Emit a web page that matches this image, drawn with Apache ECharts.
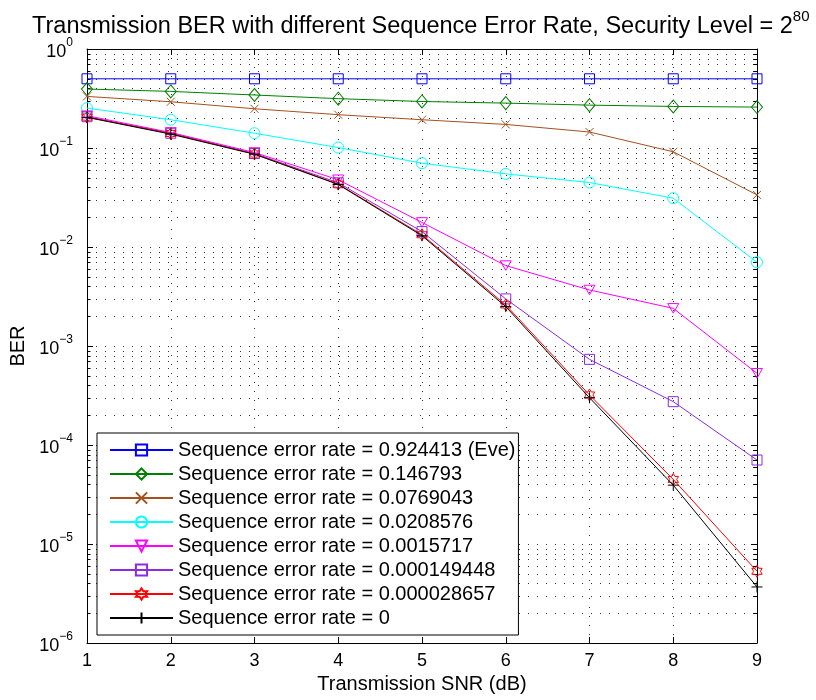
<!DOCTYPE html>
<html>
<head>
<meta charset="utf-8">
<script src="https://cdn.jsdelivr.net/npm/echarts@6/dist/echarts.min.js"></script>
<style>html,body{margin:0;padding:0;background:#fff;}#c{width:816px;height:700px;}</style>
</head>
<body>
<div id="c"></div>
<script>
var snr = [1, 2, 3, 4, 5, 6, 7, 8, 9];
var xTicks = [1, 2, 3, 4, 5, 6, 7, 8, 9];
var yTickExponents = [0, -1, -2, -3, -4, -5, -6];
var seriesNames = [
  'Sequence error rate = 0.924413 (Eve)',
  'Sequence error rate = 0.146793',
  'Sequence error rate = 0.0769043',
  'Sequence error rate = 0.0208576',
  'Sequence error rate = 0.0015717',
  'Sequence error rate = 0.000149448',
  'Sequence error rate = 0.000028657',
  'Sequence error rate = 0'
];
var berEve    = [0.5, 0.5, 0.5, 0.5, 0.5, 0.5, 0.5, 0.5, 0.5];
var ber146793 = [0.394, 0.373, 0.343, 0.315, 0.295, 0.284, 0.271, 0.263, 0.259];
var ber076904 = [0.332, 0.293, 0.249, 0.217, 0.193, 0.173, 0.145, 0.0916, 0.0336];
var ber020858 = [0.253, 0.193, 0.141, 0.101, 0.0703, 0.0548, 0.0448, 0.0311, 0.00702];
var ber001572 = [0.212, 0.1435, 0.090, 0.0478, 0.0177, 0.00649, 0.00368, 0.0024, 0.00053];
var ber000149 = [0.207, 0.141, 0.088, 0.0445, 0.0143, 0.00299, 0.000733, 0.000274, 0.0000705];
var ber000029 = [0.205, 0.140, 0.087, 0.0432, 0.0133, 0.0026, 0.00032, 0.0000449, 0.0000053];
var berZero   = [0.204, 0.138, 0.0865, 0.0428, 0.0130, 0.0025, 0.0003, 0.0000393, 0.00000368];
var minorMantissas = [2, 3, 4, 5, 6, 7, 8, 9];

var allData = [berEve, ber146793, ber076904, ber020858, ber001572, ber000149, ber000029, berZero];
var colors = ['#0000ff', '#008000', '#a5501e', '#00ffff', '#ff00ff', '#8b2be2', '#ff0000', '#000000'];
var symbols = [
  'rect',
  'diamond',
  'path://M0,0 L10,10 M0,10 L10,0',
  'circle',
  'path://M0,0 L12,0 L6,10.4 Z',
  'rect',
  'path://M0,-10 L2.887,-5 L8.66,-5 L5.774,0 L8.66,5 L2.887,5 L0,10 L-2.887,5 L-8.66,5 L-5.774,0 L-8.66,-5 L-2.887,-5 Z',
  'path://M5,0 L5,10 M0,5 L10,5'
];
var symSizes = [10, [11, 13], 8, 11, 11, 10, 12, 11];

var minorValues = [];
yTickExponents.forEach(function (e) {
  if (e === 0) return;
  minorMantissas.forEach(function (m) { minorValues.push([1, m * Math.pow(10, e)]); });
});

var FONT = 'Liberation Sans';
var series = allData.map(function (d, i) {
  return {
    name: seriesNames[i],
    type: 'line',
    data: snr.map(function (x, j) { return [x, d[j]]; }),
    symbol: symbols[i],
    symbolSize: symSizes[i],
    symbolKeepAspect: true,
    showAllSymbol: true,
    color: colors[i],
    lineStyle: { color: colors[i], width: 1 },
    itemStyle: { color: 'rgba(255,255,255,0)', borderColor: colors[i], borderWidth: 1 },
    emphasis: { disabled: true },
    z: 3 + i
  };
});

series.unshift({
  type: 'custom',
  name: 'minor',
  data: minorValues,
  encode: { x: 0, y: 1 },
  silent: true,
  z: 1,
  renderItem: function (params, api) {
    var v = api.value(1);
    var p0 = api.coord([xTicks[0], v]);
    var p1 = api.coord([xTicks[xTicks.length - 1], v]);
    var y = Math.round(p0[1]) + 0.5;
    return {
      type: 'group',
      children: [
        { type: 'line', shape: { x1: p0[0], y1: y, x2: p1[0], y2: y }, style: { stroke: '#333', lineWidth: 1, lineDash: [1, 8] } },
        { type: 'line', shape: { x1: p0[0], y1: y, x2: p0[0] + 3.5, y2: y }, style: { stroke: '#000', lineWidth: 1 } },
        { type: 'line', shape: { x1: p1[0], y1: y, x2: p1[0] - 3.5, y2: y }, style: { stroke: '#000', lineWidth: 1 } }
      ]
    };
  }
});

function yLabel(v) {
  var e = Math.round(Math.log10(v));
  var es = e < 0 ? '\u2212' + Math.abs(e) : String(e);
  return '{b|10}{e|' + es + '}';
}

var chart = echarts.init(document.getElementById('c'), null, { renderer: 'canvas' });
chart.setOption({
  animation: false,
  backgroundColor: '#fff',
  textStyle: { fontFamily: FONT, color: '#000' },
  title: {
    text: '{t|Transmission BER with different Sequence Error Rate, Security Level = 2}{s|80}',
    left: 32,
    top: 9,
    padding: 0,
    textStyle: {
      fontWeight: 'normal',
      rich: {
        t: { fontFamily: FONT, fontSize: 23.5, fontWeight: 'normal', color: '#000', lineHeight: 30, verticalAlign: 'bottom' },
        s: { fontFamily: FONT, fontSize: 15, fontWeight: 'normal', color: '#000', lineHeight: 30, verticalAlign: 'top' }
      }
    }
  },
  grid: { left: 87, right: 59, top: 49, bottom: 57, containLabel: false },
  legend: {
    orient: 'vertical',
    left: 97,
    top: 433,
    padding: [7, 3, 7, 12],
    itemWidth: 63,
    itemHeight: 14,
    itemGap: 4,
    backgroundColor: '#fff',
    borderColor: '#000',
    borderWidth: 1,
    borderRadius: 0,
    data: seriesNames,
    textStyle: { fontFamily: FONT, fontSize: 20, color: '#000', lineHeight: 20 },
    z: 20
  },
  xAxis: [{
    type: 'value', min: 1, max: 9, interval: 1, position: 'bottom',
    name: 'Transmission SNR (dB)', nameLocation: 'middle', nameGap: 31,
    nameTextStyle: { fontFamily: FONT, fontSize: 20, color: '#000' },
    axisLine: { show: true, lineStyle: { color: '#000', width: 1 } },
    axisTick: { show: true, inside: true, length: 6, lineStyle: { color: '#000' } },
    axisLabel: { fontFamily: FONT, fontSize: 18, color: '#000', margin: 9 },
    splitLine: { show: true, lineStyle: { color: '#333', width: 1, type: [1, 8] } }
  }, {
    type: 'value', min: 1, max: 9, interval: 1, position: 'top',
    axisLine: { show: true, lineStyle: { color: '#000', width: 1 } },
    axisTick: { show: true, inside: true, length: 6, lineStyle: { color: '#000' } },
    axisLabel: { show: false },
    splitLine: { show: false }
  }],
  yAxis: [{
    type: 'log', logBase: 10, min: 1e-6, max: 1, splitNumber: 6, position: 'left',
    name: 'BER', nameLocation: 'middle', nameGap: 50,
    nameTextStyle: { fontFamily: FONT, fontSize: 20, color: '#000' },
    axisLine: { show: true, lineStyle: { color: '#000', width: 1 } },
    axisTick: { show: true, inside: true, length: 6, lineStyle: { color: '#000' } },
    axisLabel: {
      margin: 14, formatter: yLabel,
      rich: {
        b: { fontFamily: FONT, fontSize: 18, color: '#000', lineHeight: 24, verticalAlign: 'bottom' },
        e: { fontFamily: FONT, fontSize: 12, color: '#000', lineHeight: 24, verticalAlign: 'top' }
      }
    },
    splitLine: { show: true, lineStyle: { color: '#333', width: 1, type: [1, 8] } },
    minorTick: { show: false }
  }, {
    type: 'log', logBase: 10, min: 1e-6, max: 1, splitNumber: 6, position: 'right',
    axisLine: { show: true, lineStyle: { color: '#000', width: 1 } },
    axisTick: { show: true, inside: true, length: 6, lineStyle: { color: '#000' } },
    axisLabel: { show: false },
    splitLine: { show: false }
  }],
  series: series
});
</script>
</body>
</html>
